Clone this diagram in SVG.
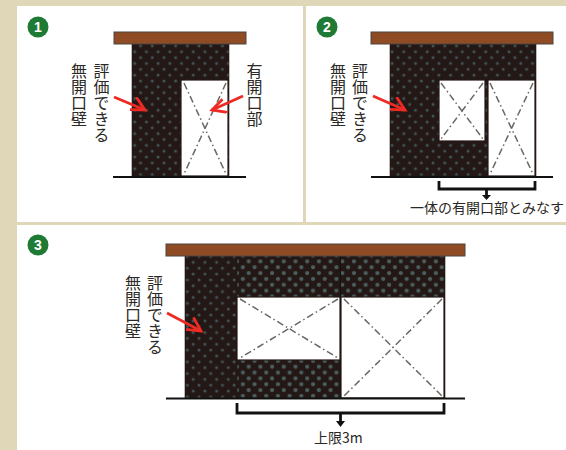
<svg xmlns="http://www.w3.org/2000/svg" width="566" height="450" viewBox="0 0 566 450">
<style>
.t{font-family:"Noto Sans CJK JP","Noto Sans",sans-serif;fill:#2b2825}
.v{font-size:16px;writing-mode:vertical-rl;text-orientation:upright}
.h{font-size:14px}
.roof{fill:#8f4c24;stroke:#4a4540;stroke-width:1}
.wall{fill:url(#dots);stroke:#231815;stroke-width:.6}
.wall2{fill:url(#dots2)}
.open{fill:#fff;stroke:#231815;stroke-width:1.2}
.x{stroke:#6a6764;stroke-width:1.5;stroke-dasharray:7 3 1.5 3;fill:none}
.g{stroke:#111;stroke-width:2.200;fill:none}
.b{stroke:#111;stroke-width:2.800;fill:none}
.r{stroke:#ee2a24;stroke-width:2.800;fill:none}
.c{fill:#1f7a35}
.n{font-family:"Liberation Sans",sans-serif;font-size:14px;font-weight:bold;fill:#fff;text-anchor:middle}
</style>
<defs>
<pattern id="dots" width="11.7" height="11.7" patternUnits="userSpaceOnUse" x="3" y="2">
<rect width="11.7" height="11.7" fill="#231815"/>
<circle cx="3" cy="3" r="1.5" fill="#435555"/>
<circle cx="8.85" cy="8.85" r="1.5" fill="#435555"/>
</pattern>
<pattern id="dots2" width="11.7" height="11.7" patternUnits="userSpaceOnUse" x="0" y="1">
<rect width="11.7" height="11.7" fill="#231815"/>
<circle cx="3" cy="3" r="2.1" fill="#4c5f5f"/>
<circle cx="8.85" cy="8.85" r="2.1" fill="#4c5f5f"/>
</pattern>
<marker id="ah" markerUnits="userSpaceOnUse" markerWidth="24" markerHeight="24" refX="15" refY="9" orient="auto">
<path d="M2 0.500L15 9L1 14.500" fill="none" stroke="#ee2a24" stroke-width="2.800"/>
</marker>
</defs>
<rect width="566" height="450" fill="#dfd7b8"/>
<g id="panel-1">
<rect x="17" y="6" width="286" height="216" fill="#fff"/>
<circle class="c" cx="38" cy="27" r="10.500"/><text class="n" x="38" y="32">1</text>
<rect class="wall" x="132" y="44" width="97" height="132"/>
<rect class="roof" x="114" y="32" width="132" height="12"/>
<g id="p1-opening"><rect class="open" x="181" y="80" width="47" height="96"/>
<path class="x" d="M184 83L226 174M226 83L184 174"/></g>
<path class="g" d="M113 177H246"/>
<text class="t v" x="101.500" y="63">評価できる</text>
<text class="t v" x="79" y="63">無開口壁</text>
<text class="t v" x="254.500" y="63">有開口部</text>
</g>
<g id="panel-2">
<rect x="306" y="6" width="260" height="216" fill="#fff"/>
<circle class="c" cx="327" cy="27" r="10.500"/><text class="n" x="327" y="32">2</text>
<rect class="wall" x="390" y="44" width="146" height="132"/>
<rect class="roof" x="371" y="32" width="182" height="12"/>
<g id="p2-window"><rect class="open" x="439" y="80" width="46" height="61"/>
<path class="x" d="M441 83L483 139M483 83L441 139"/></g>
<g id="p2-door"><rect class="open" x="488" y="80" width="47" height="96"/>
<path class="x" d="M490 83L533 174M533 83L490 174"/></g>
<path class="g" d="M371 177H553"/>
<text class="t v" x="360" y="63">評価できる</text>
<text class="t v" x="338" y="63">無開口壁</text>
<text class="t h" x="410" y="213">一体の有開口部とみなす</text>
</g>
<g id="panel-3">
<rect x="17" y="225" width="549" height="225" fill="#fff"/>
<circle class="c" cx="38" cy="245" r="10.500"/><text class="n" x="38" y="250">3</text>
<rect class="wall" x="185" y="256" width="52" height="142"/>
<rect class="wall wall2" x="237" y="256" width="208" height="142"/>
<path d="M340.500 256V398" stroke="#111" stroke-width="1"/>
<rect class="roof" x="166" y="244" width="299" height="12"/>
<g id="p3-window"><rect class="open" x="237" y="297" width="103" height="63"/>
<path class="x" d="M240 299L338 358M338 299L240 358"/></g>
<g id="p3-door"><rect class="open" x="341" y="297" width="103" height="101"/>
<path class="x" d="M344 299L442 396M442 299L344 396"/></g>
<path class="g" d="M166 398.500H465"/>
<text class="t v" x="155" y="275">評価できる</text>
<text class="t v" x="133" y="275">無開口壁</text>
<text class="t h" x="314" y="443">上限3m</text>
</g>
<g id="connectors">
<path class="r" marker-end="url(#ah)" d="M114 97L145 110"/>
<path class="r" marker-end="url(#ah)" d="M243 96L212 110"/>
<path class="r" marker-end="url(#ah)" d="M373 96L405 110"/>
<path class="r" marker-end="url(#ah)" d="M167 313L201 331"/>
<path class="b" d="M439 181V189H535V181"/>
<path class="b" d="M486.500 189V197"/><path d="M482 195L486.500 200L491 195Z" fill="#111"/>
<path class="b" d="M237 403V413H444V403"/>
<path class="b" d="M340.500 413V423"/><path d="M336 421L340.500 427L345 421Z" fill="#111"/>
</g>
</svg>
